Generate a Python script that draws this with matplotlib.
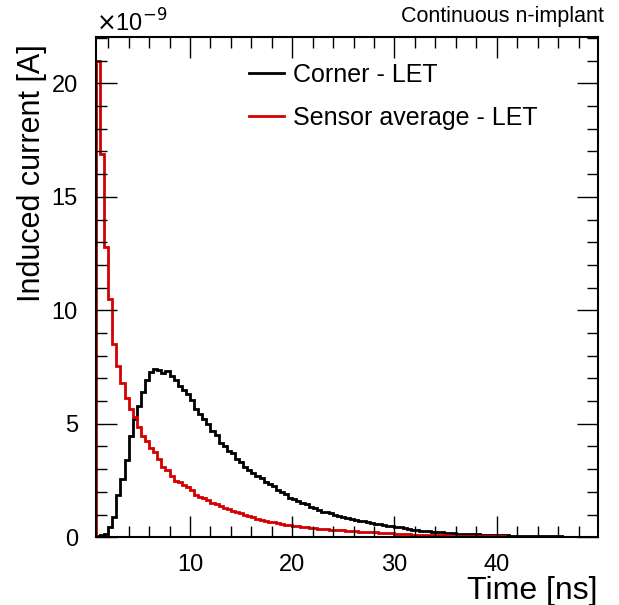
import numpy as np
import matplotlib.pyplot as plt
from matplotlib.ticker import MultipleLocator

plt.rcParams['font.family'] = ['Liberation Sans', 'DejaVu Sans']

# histogramas de corrente induzida, unidade 1e-9 A, bins de 0.4 ns a partir de 0.8 ns
t_start = 0.8
bin_width = 0.4

corner_let = [
    0.05, 0.10, 0.15, 0.45, 0.90, 1.85, 2.55, 3.40, 4.45, 5.20,
    5.80, 6.40, 6.95, 7.30, 7.40, 7.35, 7.25, 7.32, 7.10, 6.95,
    6.65, 6.50, 6.30, 6.05, 5.65, 5.45, 5.20, 5.00, 4.70, 4.50,
    4.15, 4.00, 3.80, 3.72, 3.45, 3.30, 3.10, 2.95, 2.85, 2.70,
    2.60, 2.45, 2.35, 2.25, 2.10, 2.00, 1.90, 1.75, 1.70, 1.58,
    1.50, 1.45, 1.35, 1.30, 1.18, 1.12, 1.10, 1.05, 1.00, 0.93,
    0.88, 0.85, 0.80, 0.75, 0.73, 0.70, 0.68, 0.64, 0.60, 0.57,
    0.54, 0.50, 0.48, 0.46, 0.44, 0.40, 0.36, 0.33, 0.31, 0.29,
    0.27, 0.26, 0.24, 0.22, 0.21, 0.19, 0.18, 0.17, 0.16, 0.15,
    0.15, 0.14, 0.13, 0.13, 0.12, 0.11, 0.10, 0.09, 0.09, 0.08,
    0.08, 0.07, 0.07, 0.06, 0.06, 0.05, 0.05, 0.05, 0.04, 0.04,
    0.04, 0.04, 0.04, 0.04, 0.03, 0.03, 0.03, 0.03, 0.03, 0.03,
    0.03, 0.03, 0.03,
]

sensor_avg_let = [
    21.0, 16.9, 12.8, 10.5, 8.50, 7.55, 6.80, 6.15, 5.65, 5.30,
    4.85, 4.45, 4.25, 3.95, 3.75, 3.45, 3.10, 2.98, 2.70, 2.50,
    2.42, 2.30, 2.22, 2.10, 1.85, 1.78, 1.72, 1.64, 1.52, 1.45,
    1.38, 1.30, 1.25, 1.17, 1.10, 1.05, 0.98, 0.92, 0.88, 0.82,
    0.76, 0.73, 0.69, 0.66, 0.62, 0.59, 0.56, 0.53, 0.51, 0.48,
    0.46, 0.43, 0.41, 0.40, 0.38, 0.36, 0.35, 0.33, 0.32, 0.31,
    0.30, 0.29, 0.27, 0.26, 0.25, 0.24, 0.23, 0.22, 0.21, 0.20,
    0.19, 0.18, 0.17, 0.16, 0.15, 0.14, 0.13, 0.12, 0.12, 0.11,
    0.10, 0.10, 0.09, 0.09, 0.08, 0.08, 0.07, 0.07, 0.06, 0.06,
    0.06, 0.05, 0.05, 0.05, 0.04, 0.04, 0.04, 0.04, 0.04, 0.04,
    0.03, 0.03, 0.03, 0.03, 0.03, 0.03, 0.03, 0.03, 0.03, 0.03,
    0.02, 0.02, 0.02, 0.02, 0.02, 0.02, 0.02, 0.02, 0.02, 0.02,
    0.02, 0.02, 0.02,
]

edges = t_start + bin_width * np.arange(len(corner_let) + 1)

fig = plt.figure(figsize=(6.19, 6.05), dpi=100)
ax = fig.add_axes([0.155, 0.112, 0.811, 0.827])

ax.stairs(corner_let, edges, baseline=0, color='black', lw=2.0, label='Corner - LET')
ax.stairs(sensor_avg_let, edges, baseline=0, color='#d40000', lw=2.0, label='Sensor average - LET')

ax.set_xlim(edges[0], 49.9)
ax.set_ylim(0, 1.05 * max(sensor_avg_let))

ax.xaxis.set_major_locator(MultipleLocator(10))
ax.xaxis.set_minor_locator(MultipleLocator(2))
ax.yaxis.set_major_locator(MultipleLocator(5))
ax.yaxis.set_minor_locator(MultipleLocator(1))
ax.tick_params(which='both', direction='in', top=True, right=True, labelsize=17, width=1.0)
ax.tick_params(which='major', length=15)
ax.tick_params(which='minor', length=8)
ax.tick_params(axis='x', which='major', pad=12)
ax.tick_params(axis='y', which='major', pad=13)
for s in ax.spines.values():
    s.set_linewidth(1.5)

ax.set_xlabel('Time [ns]', fontsize=23, loc='right', labelpad=0)
ax.set_ylabel('Induced current [A]', fontsize=22, loc='top', labelpad=3)
ax.yaxis.label.set_y(0.985)

ax.text(0.0, 1.0, r'$\times$10$^{-9}$', transform=ax.transAxes, fontsize=17,
        ha='left', va='bottom')
fig.text(0.975, 0.955, 'Continuous n-implant', fontsize=15.5, ha='right', va='bottom')

ax.legend(loc='upper left', bbox_to_anchor=(0.285, 0.968), frameon=False, fontsize=18,
          handlelength=1.4, handletextpad=0.35, labelspacing=0.75, borderaxespad=0)

plt.savefig('out.png', dpi=100)
